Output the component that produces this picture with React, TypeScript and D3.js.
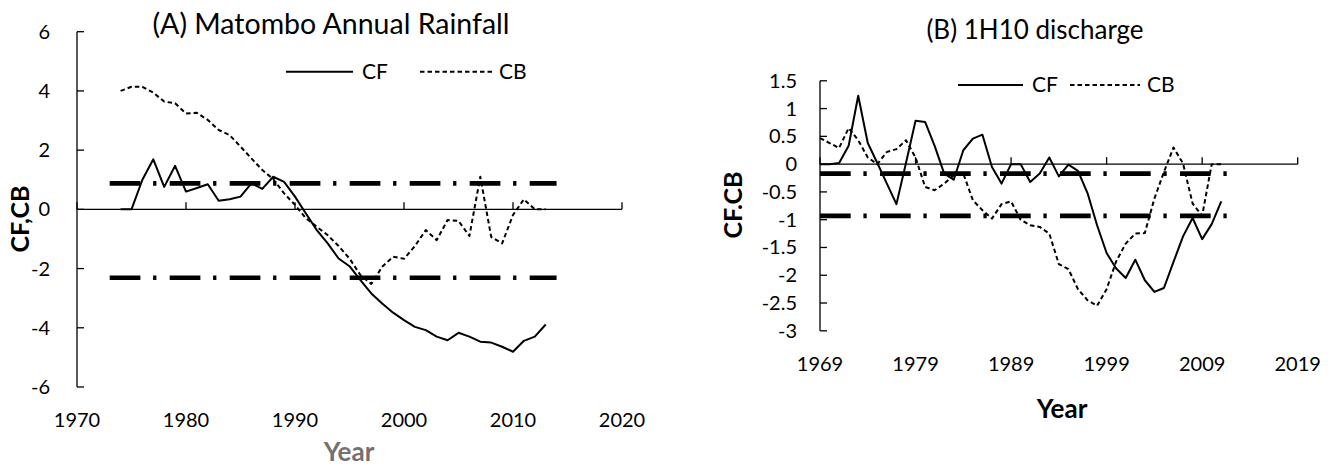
import * as d3 from 'd3';

// Panel A: Matombo annual rainfall (1974-2013)
const rainYears = d3.range(1974, 2014);
const rainCF = [
  0, 0, 1.0, 1.69, 0.76, 1.47, 0.6, 0.72, 0.85, 0.29,
  0.34, 0.43, 0.88, 0.69, 1.1, 0.93, 0.43, -0.14, -0.7, -1.15,
  -1.66, -1.92, -2.39, -2.84, -3.18, -3.49, -3.74, -3.97, -4.08, -4.3,
  -4.42, -4.17, -4.3, -4.47, -4.5, -4.64, -4.81, -4.44, -4.3, -3.89,
];
const rainCB = [
  4.0, 4.14, 4.14, 3.94, 3.64, 3.58, 3.24, 3.26, 3.02, 2.68,
  2.51, 2.12, 1.72, 1.33, 1.02, 0.54, 0.15, -0.3, -0.59, -0.87,
  -1.24, -1.66, -2.22, -2.52, -1.94, -1.6, -1.67, -1.24, -0.7, -1.04,
  -0.36, -0.39, -0.9, 1.1, -0.93, -1.15, -0.19, 0.34, 0, 0,
];
const rainLimits = [0.88, -2.31];
const rainLimitYears = [1973, 2014];
const rainXTicks = [1970, 1980, 1990, 2000, 2010, 2020];
const rainYTicks = [-6, -4, -2, 0, 2, 4, 6];

// Panel B: 1H10 discharge (1969-2011)
const flowYears = d3.range(1969, 2012);
const flowCF = [
  0, 0, 0.02, 0.33, 1.23, 0.38, 0.02, -0.35, -0.72, 0.02,
  0.78, 0.76, 0.33, -0.17, -0.28, 0.25, 0.46, 0.53, -0.05, -0.35,
  0.0, 0.0, -0.32, -0.17, 0.12, -0.22, -0.01, -0.12, -0.52, -1.1,
  -1.6, -1.88, -2.05, -1.72, -2.09, -2.3, -2.23, -1.76, -1.3, -0.97,
  -1.35, -1.08, -0.67,
];
const flowCB = [
  0.47, 0.38, 0.29, 0.65, 0.43, 0.12, 0.0, 0.22, 0.27, 0.43,
  0.12, -0.41, -0.47, -0.35, -0.2, -0.17, -0.65, -0.83, -0.98, -0.72,
  -0.67, -1.0, -1.1, -1.13, -1.25, -1.8, -1.89, -2.25, -2.45, -2.55,
  -2.25, -1.75, -1.43, -1.25, -1.24, -0.62, -0.14, 0.3, 0.01, -0.71,
  -0.93, 0.0, 0.0,
];
const flowLimits = [-0.17, -0.93];
const flowLimitYears = [1969, 2012];
const flowXTicks = [1969, 1979, 1989, 1999, 2009, 2019];
const flowYTicks = [-3, -2.5, -2, -1.5, -1, -0.5, 0, 0.5, 1, 1.5];

const FONT = 'Lato, "Open Sans", sans-serif';
const LIMIT_DASH = '30.7 12.7 3.3 13.3';
const CB_DASH = '4.5 3';

function Panel({ years, cf, cb, limits, limitYears, xTicks, yTicks, xRange, yRange,
  title, titleX, titleY, titleSize, yLabel, yLabelX, yLabelY, xLabelY, yearY, yearX, yearColor,
  legendX, legendY, tickLabelX }) {
  const x = d3.scaleLinear().domain([xTicks[0], xTicks[xTicks.length - 1]]).range(xRange);
  const y = d3.scaleLinear().domain([yTicks[0], yTicks[yTicks.length - 1]]).range(yRange);
  const x0 = x(xTicks[0]);
  const x1 = x(xTicks[xTicks.length - 1]);
  const zeroY = y(0);

  const line = d3.line<number>()
    .x((_, i) => x(years[i]))
    .y(d => y(d));

  return (
    <g fontFamily={FONT}>
      <text x={titleX} y={titleY} textAnchor="middle" fontSize={titleSize} fill="#000">{title}</text>

      {/* axes */}
      <line x1={x0} x2={x0} y1={y(yTicks[0])} y2={y(yTicks[yTicks.length - 1])} stroke="#000" strokeWidth={1.3} />
      <line x1={x0} x2={x1} y1={zeroY} y2={zeroY} stroke="#000" strokeWidth={1.3} />
      {yTicks.map(t => (
        <g key={'y' + t}>
          <line x1={x0} x2={x0 + 7} y1={y(t)} y2={y(t)} stroke="#000" strokeWidth={1.3} />
          <text x={tickLabelX} y={y(t)} dy="0.35em" textAnchor="end" fontSize={20}>{String(t)}</text>
        </g>
      ))}
      {xTicks.map(t => (
        <g key={'x' + t}>
          <line x1={x(t)} x2={x(t)} y1={zeroY} y2={zeroY - 7} stroke="#000" strokeWidth={1.3} />
          <text x={x(t)} y={xLabelY} dy="0.35em" textAnchor="middle" fontSize={20}>{String(t)}</text>
        </g>
      ))}

      {/* series */}
      <path d={line(cb)} fill="none" stroke="#000" strokeWidth={2} strokeDasharray={CB_DASH} strokeLinejoin="round" />
      <path d={line(cf)} fill="none" stroke="#000" strokeWidth={2} strokeLinejoin="round" />

      {/* significance limits */}
      {limits.map(v => (
        <line key={'l' + v} x1={x(limitYears[0])} x2={x(limitYears[1])} y1={y(v)} y2={y(v)}
          stroke="#000" strokeWidth={4.7} strokeDasharray={LIMIT_DASH} />
      ))}

      {/* legend */}
      <line x1={legendX[0]} x2={legendX[1]} y1={legendY} y2={legendY} stroke="#000" strokeWidth={2} />
      <text x={legendX[1] + 9} y={legendY} dy="0.35em" fontSize={21}>CF</text>
      <line x1={legendX[2]} x2={legendX[3]} y1={legendY} y2={legendY} stroke="#000" strokeWidth={2} strokeDasharray={CB_DASH} />
      <text x={legendX[3] + 7} y={legendY} dy="0.35em" fontSize={21}>CB</text>

      {/* axis titles */}
      <text x={yLabelX} y={yLabelY} textAnchor="middle" fontSize={25} fontWeight="bold"
        transform={`rotate(-90 ${yLabelX} ${yLabelY})`} dy="0.35em">{yLabel}</text>
      <text x={yearX} y={yearY} dy="0.35em" textAnchor="middle" fontSize={26} fontWeight="bold" fill={yearColor}>Year</text>
    </g>
  );
}

export default function App() {
  return (
    <div style={{ position: 'absolute', left: 0, top: 0 }}>
      <svg width={1339} height={470} viewBox="0 0 1339 470" style={{ display: 'block', background: '#fff' }}>
        <Panel
          years={rainYears} cf={rainCF} cb={rainCB}
          limits={rainLimits} limitYears={rainLimitYears}
          xTicks={rainXTicks} yTicks={rainYTicks}
          xRange={[77, 622]} yRange={[387, 31.7]}
          title="(A) Matombo Annual Rainfall" titleX={331} titleY={34} titleSize={28.5}
          yLabel="CF,CB" yLabelX={20} yLabelY={219}
          xLabelY={420} yearX={349} yearY={452} yearColor="#767171"
          legendX={[286, 353, 420, 492]} legendY={71.7} tickLabelX={50}
        />
        <Panel
          years={flowYears} cf={flowCF} cb={flowCB}
          limits={flowLimits} limitYears={flowLimitYears}
          xTicks={flowXTicks} yTicks={flowYTicks}
          xRange={[820, 1297.7]} yRange={[330.8, 80.8]}
          title="(B) 1H10 discharge" titleX={1035} titleY={39} titleSize={26}
          yLabel="CF.CB" yLabelX={733} yLabelY={205}
          xLabelY={364} yearX={1062} yearY={409} yearColor="#000"
          legendX={[958, 1023, 1070, 1140]} legendY={85} tickLabelX={797}
        />
      </svg>
    </div>
  );
}
